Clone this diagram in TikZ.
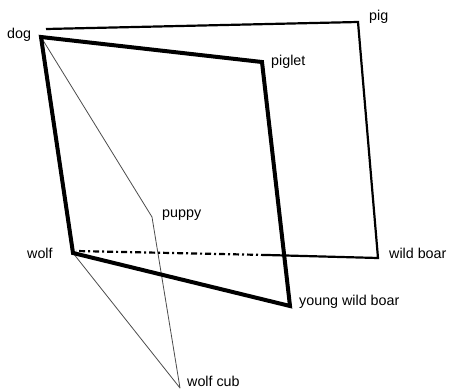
\documentclass[tikz,border=0pt]{standalone}
\usepackage{fontspec}
\setmainfont{Liberation Sans}
\begin{document}
\begin{tikzpicture}[x=1pt,y=-1pt,
  lbl/.style={inner sep=0pt,anchor=base west,font=\fontsize{14.3}{16}\selectfont},
  heavy/.style={line width=4pt,line join=miter},
  medium/.style={line width=2.2pt,line join=miter},
  fine/.style={line width=0.8pt,draw=black!70,line join=round}]
\useasboundingbox (0,0) rectangle (451,389);
% vertices
\coordinate (dog) at (41,37);
\coordinate (dogb) at (46,29);
\coordinate (piglet) at (262,62);
\coordinate (ywb) at (290,306);
\coordinate (wolf) at (73,253);
\coordinate (wolfb) at (76,251);
\coordinate (pig) at (358,22);
\coordinate (wboar) at (378,258);
\coordinate (mid) at (267,255);
\coordinate (puppy) at (152,217);
\coordinate (cub) at (180,388);
% labels
\node[lbl] (tdog) at (7,38) {dog};
\node[lbl] (tpig) at (369,20) {pig};
\node[lbl] (tpiglet) at (271,65) {piglet};
\node[lbl] (tpuppy) at (162,217.5) {puppy};
\node[lbl] (twolf) at (27,258) {wolf};
\node[lbl] (twboar) at (389,258) {wild boar};
\node[lbl] (tywb) at (299,305) {young wild boar};
\node[lbl] (tcub) at (187,386) {wolf cub};
% thin shape
\draw[fine] (dog) -- (puppy) -- (cub) -- (wolf);
% medium shape
\draw[medium] (dogb) -- (pig) -- (wboar) -- (mid);
\draw[medium,dash pattern=on 6pt off 3pt on 2pt off 3pt] (mid) -- (wolfb);
% heavy shape
\draw[heavy] (dog) -- (piglet) -- (ywb) -- (wolf) -- cycle;
\end{tikzpicture}
\end{document}
